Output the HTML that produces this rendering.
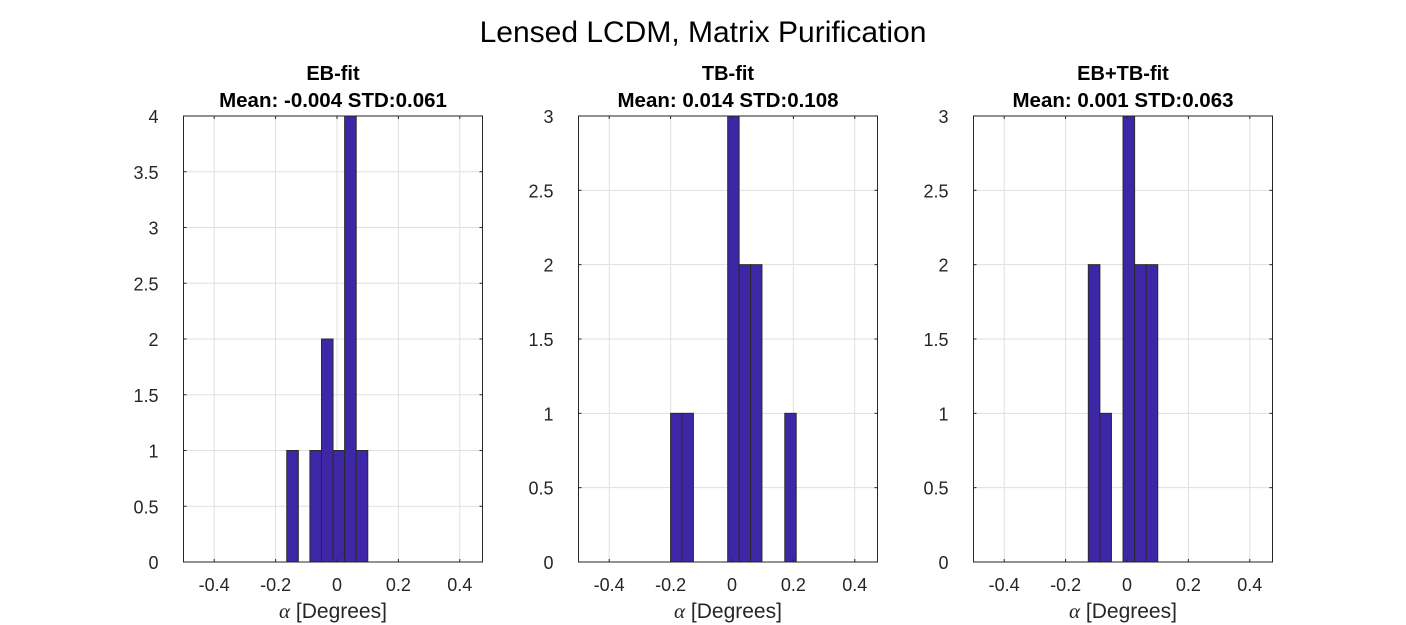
<!DOCTYPE html>
<html><head><meta charset="utf-8"><style>
body{margin:0;background:#fff;width:1406px;height:625px;overflow:hidden}
svg{display:block;font-family:"Liberation Sans",Arial,sans-serif}
</style></head><body>
<svg id="fig" width="1406" height="625">
<text x="703" y="42" text-anchor="middle" font-size="30" fill="#000">Lensed LCDM, Matrix Purification</text>
</svg>
<script>
// Data
const panelTitles = ["EB-fit", "TB-fit", "EB+TB-fit"];
const panelStats = ["Mean: -0.004 STD:0.061", "Mean: 0.014 STD:0.108", "Mean: 0.001 STD:0.063"];
const binStarts = [-0.1636, -0.2, -0.126];
const binWidths = [0.0377, 0.0372, 0.0377];
const countsEB = [1, 0, 1, 2, 1, 4, 1];
const countsTB = [1, 1, 0, 0, 0, 3, 2, 2, 0, 0, 1];
const countsEBTB = [2, 1, 0, 3, 2, 2];
const yMaxes = [4, 3, 3];
const yTicksEB = [0, 0.5, 1, 1.5, 2, 2.5, 3, 3.5, 4];
const yTicks3 = [0, 0.5, 1, 1.5, 2, 2.5, 3];
const xTicks = [-0.4, -0.2, 0, 0.2, 0.4];
const xLimits = [-0.5, 0.474];

const allCounts = [countsEB, countsTB, countsEBTB];
const allYTicks = [yTicksEB, yTicks3, yTicks3];
const panelLefts = [183.5, 578.5, 973.5];
const W = 299, TOP = 116, BOT = 562;
const NS = "http://www.w3.org/2000/svg";
const svg = document.getElementById('fig');
function mk(tag, attrs, parent) {
  const e = document.createElementNS(NS, tag);
  for (const k in attrs) e.setAttribute(k, attrs[k]);
  (parent || svg).appendChild(e);
  return e;
}
function fmt(v){ return String(Math.round(v*10)/10); }

for (let p = 0; p < 3; p++) {
  const L = panelLefts[p];
  const xs = v => L + (v - xLimits[0]) / (xLimits[1] - xLimits[0]) * W;
  const ys = v => BOT - v / yMaxes[p] * (BOT - TOP);
  const g = mk('g', {});
  
  
  xTicks.forEach(t => {
    const l = mk('line', {x1: xs(t), x2: xs(t), y1: TOP, y2: BOT, stroke: '#dfdfdf', 'stroke-width': 1}, g);
    
    
  });
  allYTicks[p].forEach(t => {
    const l = mk('line', {x1: L, x2: L + W, y1: ys(t), y2: ys(t), stroke: '#dfdfdf', 'stroke-width': 1}, g);
    
    
  });
  allCounts[p].forEach((c, i) => {
    if (c <= 0) return;
    const x0 = xs(binStarts[p] + i * binWidths[p]);
    const x1 = xs(binStarts[p] + (i + 1) * binWidths[p]);
    const r = mk('rect', {x: x0, y: ys(c), width: x1 - x0, height: BOT - ys(c), fill: '#3d27a6', stroke: '#2a2a2a', 'stroke-width': 1}, g);
    
    
  });
  const box = mk('rect', {x: L, y: TOP, width: W, height: BOT - TOP, fill: 'none', stroke: '#262626', 'stroke-width': 1}, g);
  
  
  xTicks.forEach(t => {
    mk('line', {x1: xs(t), x2: xs(t), y1: BOT, y2: BOT - 3, stroke: '#262626'}, g);
    mk('line', {x1: xs(t), x2: xs(t), y1: TOP, y2: TOP + 3, stroke: '#262626'}, g);
    const tx = mk('text', {x: xs(t), y: BOT + 29, 'text-anchor': 'middle', 'font-size': 18, fill: '#262626'}, g);
    tx.textContent = fmt(t);
    
    
  });
  allYTicks[p].forEach(t => {
    mk('line', {x1: L, x2: L + 3, y1: ys(t), y2: ys(t), stroke: '#262626'}, g);
    mk('line', {x1: L + W, x2: L + W - 3, y1: ys(t), y2: ys(t), stroke: '#262626'}, g);
    const tx = mk('text', {x: L - 25, y: ys(t) + 7, 'text-anchor': 'end', 'font-size': 18, fill: '#262626'}, g);
    tx.textContent = fmt(t);
    
    
  });
  const cx = L + W / 2;
  const t1 = mk('text', {x: cx, y: 80, 'text-anchor': 'middle', 'font-size': 20, 'font-weight': 'bold', fill: '#000'}, g);
  t1.textContent = panelTitles[p];
  
  
  const t2 = mk('text', {x: cx, y: 107, 'text-anchor': 'middle', 'font-size': 20.5, 'font-weight': 'bold', fill: '#000'}, g);
  t2.textContent = panelStats[p];
  
  
  const xl = mk('text', {x: cx, y: 618, 'text-anchor': 'middle', 'font-size': 21, fill: '#262626'}, g);
  xl.innerHTML = '<tspan font-family="Liberation Serif" font-style="italic">α</tspan> [Degrees]';
  
  
}
</script>
</body></html>
